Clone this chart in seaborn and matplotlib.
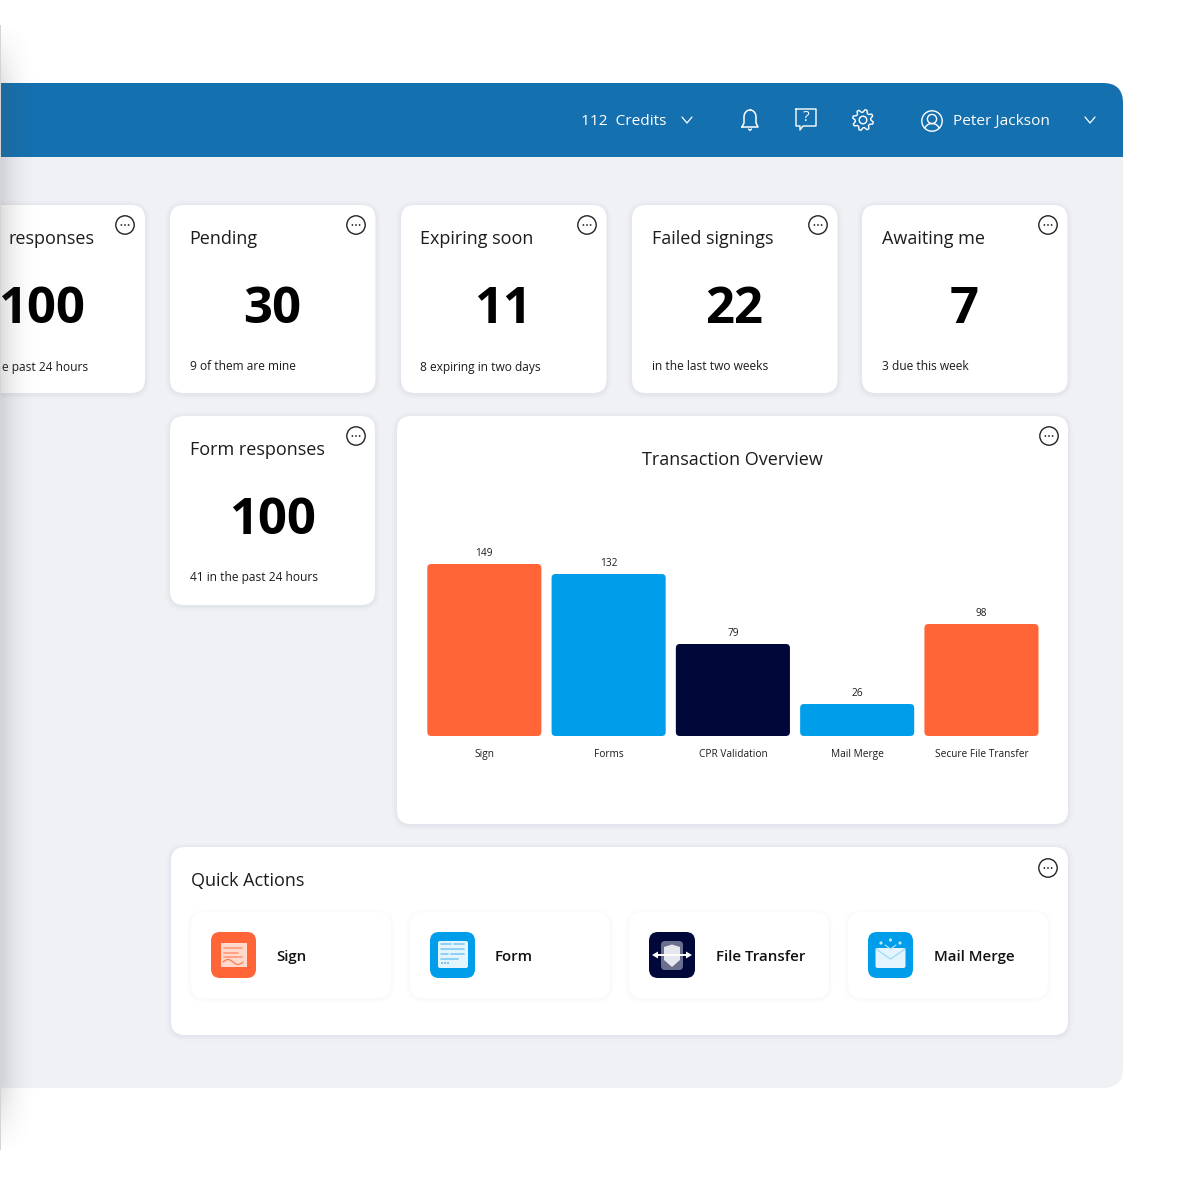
"""Dashboard mock-up with the Transaction Overview bar chart."""
import numpy as np
import pandas as pd
import matplotlib
matplotlib.use('Agg')
import matplotlib.pyplot as plt
from matplotlib.patches import Circle, FancyBboxPatch, Polygon, Rectangle
import seaborn as sns

# Chart data. The labels in the picture are not proportional to the drawn bars,
# so the bar lengths read off the picture are kept next to the printed values.
services = ['Sign', 'Forms', 'CPR Validation', 'Mail Merge', 'Secure File Transfer']
printed_values = [149, 132, 79, 26, 98]
bar_lengths = [172, 162, 92, 32, 112]
bar_colors = ['#FF6536', '#009DEA', '#00083A', '#009DEA', '#FF6536']

# Stat cards (the first is cropped by the picture edge, so only its visible text is kept)
cropped_title = 'responses'
cropped_value = '100'
cropped_note = 'e past 24 hours'
card_titles = ['Pending', 'Expiring soon', 'Failed signings', 'Awaiting me']
card_values = ['30', '11', '22', '7']
card_notes = ['9 of them are mine', '8 expiring in two days', 'in the last two weeks', '3 due this week']
form_title = 'Form responses'
form_value = '100'
form_note = '41 in the past 24 hours'

action_labels = ['Sign', 'Form', 'File Transfer', 'Mail Merge']
credits_label = '112  Credits'
user_name = 'Peter Jackson'

BLUE = '#1570AF'
PANEL = '#EFF1F5'
INK = '#1C1C1C'
FONT = 'Open Sans'
TITLE_SIZE = 13.0
VALUE_SIZE = 36.5
NOTE_SIZE = 8.65


def box(ax, x0, y0, x1, y1, r, color, z=1, **kw):
    patch = FancyBboxPatch((x0, y0), x1 - x0, y1 - y0,
                           boxstyle=f'round,pad=0,rounding_size={r}',
                           fc=color, ec='none', zorder=z, **kw)
    ax.add_patch(patch)
    return patch


def card(ax, x0, y0, x1, y1, r=14):
    # soft shadow, then the white face
    for grow, alpha in zip([5, 3, 1.5], [0.012, 0.018, 0.022]):
        box(ax, x0 - grow, y0 - grow + 1, x1 + grow, y1 + grow + 1, r + grow, '#39406A', z=2, alpha=alpha)
    box(ax, x0, y0, x1, y1, r, 'white', z=3)


def more_icon(ax, x, y):
    ax.add_patch(Circle((x, y), 9.2, fc='white', ec='#222222', lw=1.0, zorder=5))
    for dx in (-3.6, 0, 3.6):
        ax.add_patch(Circle((x + dx, y), 0.9, fc='#222222', ec='none', zorder=6))


def chevron(ax, x, y):
    ax.plot([x - 5, x, x + 5], [y - 3, y + 3, y - 3], color='white', lw=0.9, zorder=6)


def bell(ax, x, y):
    t = np.linspace(np.pi, 0, 30)
    xs = [x - 8, x - 6] + list(x + 6 * np.cos(t)) + [x + 6, x + 8]
    ys = [y + 7, y + 3] + list(y - 3 + 7 * -np.sin(t)) + [y + 3, y + 7]
    ax.plot(xs + [xs[0]], ys + [ys[0]], color='white', lw=1.1, zorder=6)
    ax.plot([x - 1.5, x, x + 1.5], [y + 9, y + 10.5, y + 9], color='white', lw=1.0, zorder=6)
    ax.plot([x, x], [y - 11.5, y - 10], color='white', lw=1.0, zorder=6)


def help_icon(ax, x, y):
    xs = [x - 10, x + 10, x + 10, x - 3, x - 6, x - 6, x - 10, x - 10]
    ys = [y - 10, y - 10, y + 7, y + 7, y + 11, y + 7, y + 7, y - 10]
    ax.plot(xs, ys, color='white', lw=1.0, zorder=6)
    ax.text(x, y - 1.5, '?', color='white', fontsize=11, ha='center', va='center',
            family=FONT, zorder=6)


def gear(ax, x, y):
    n = 8
    ang = np.linspace(0, 2 * np.pi, n * 4, endpoint=False) + np.pi / 8 - np.pi / 16
    rad = np.tile([10.5, 10.5, 7.8, 7.8], n)
    ax.add_patch(Polygon(np.c_[x + rad * np.cos(ang), y + rad * np.sin(ang)], closed=True,
                         fc='none', ec='white', lw=1.0, joinstyle='round', zorder=6))
    ax.add_patch(Circle((x, y), 3.8, fc='none', ec='white', lw=1.0, zorder=6))


def user_icon(ax, x, y):
    ax.add_patch(Circle((x, y), 10.2, fc='none', ec='white', lw=1.0, zorder=6))
    ax.add_patch(Circle((x, y - 2), 4.6, fc='none', ec='white', lw=1.0, zorder=6))
    t = np.linspace(np.pi * 1.12, np.pi * 1.88, 20)
    ax.plot(x + 7.6 * np.cos(t), y + 9.5 + 7 * np.sin(t), color='white', lw=1.0, zorder=6)


def sign_icon(ax, x, y):
    box(ax, x, y, x + 45, y + 46, 9, '#FF6536', z=5)
    ax.add_patch(Rectangle((x + 9.5, y + 11), 26, 24, fc='#FFD9CC', ec='none', zorder=6))
    for k, w in enumerate([18, 14, 18]):
        ax.plot([x + 13, x + 13 + w], [y + 16 + k * 4.5] * 2, color='#FF9D80', lw=1.3, zorder=7)
    t = np.linspace(0, 1, 30)
    ax.plot(x + 12 + 20 * t, y + 30 - 2.5 * np.sin(t * 2 * np.pi), color='#FF7A50', lw=0.9, zorder=7)


def form_icon(ax, x, y):
    box(ax, x, y, x + 45, y + 46, 9, '#009DEA', z=5)
    box(ax, x + 8, y + 9, x + 38, y + 36, 2, '#E3F4FD', z=6)
    rows = [(11, 21, 12), (24, 34, 12), (11, 34, 17), (11, 18, 22), (21, 34, 22), (11, 28, 27)]
    for a, b, dy in rows:
        ax.plot([x + a, x + b], [y + dy] * 2, color='#7CCBF4', lw=1.2, zorder=7)
    for dx in (12, 15, 18):
        ax.add_patch(Circle((x + dx, y + 31), 0.9, fc='#3DAEEA', ec='none', zorder=7))


def transfer_icon(ax, x, y):
    box(ax, x, y, x + 46, y + 46, 9, '#00083A', z=5)
    box(ax, x + 12, y + 9, x + 34, y + 38, 4, '#6A6F8E', z=6)
    ax.add_patch(Polygon([(x + 15, y + 15), (x + 23, y + 12.5), (x + 31, y + 15), (x + 31, y + 28),
                          (x + 23, y + 35), (x + 15, y + 28)], fc='#E6E7EE', ec='none', zorder=7))
    ax.plot([x + 6, x + 40], [y + 23, y + 23], color='white', lw=1.4, zorder=8)
    ax.add_patch(Polygon([(x + 3, y + 23), (x + 9, y + 19.5), (x + 9, y + 26.5)], fc='white', ec='none', zorder=8))
    ax.add_patch(Polygon([(x + 43, y + 23), (x + 37, y + 19.5), (x + 37, y + 26.5)], fc='white', ec='none', zorder=8))


def mail_icon(ax, x, y):
    box(ax, x, y, x + 45, y + 46, 9, '#009DEA', z=5)
    box(ax, x + 7.5, y + 16, x + 37.5, y + 36, 2, '#E3F4FD', z=6)
    ax.plot([x + 8, x + 22.5, x + 37], [y + 17, y + 27, y + 17], color='#A5DCF7', lw=1.0, zorder=7)
    ax.plot([x + 17, x + 22.5, x + 28], [y + 13, y + 17, y + 13], color='#BFE6FA', lw=0.8, zorder=7)
    for dx, dy in [(13, 11), (22.5, 8), (32, 11)]:
        ax.add_patch(Circle((x + dx, y + dy), 1.6, fc='#BFE6FA', ec='none', zorder=7))


sns.set_theme(style='white')
plt.rcParams['font.family'] = [FONT, 'DejaVu Sans']

fig = plt.figure(figsize=(12, 12), dpi=100, facecolor='white')
page = fig.add_axes([0, 0, 1, 1])
page.set_xlim(0, 1200)
page.set_ylim(1200, 0)
page.axis('off')

# Window and header bar
box(page, -40, 83, 1123, 1088, 20, PANEL, z=1)
box(page, -40, 83, 1123, 190, 20, BLUE, z=1.2)
page.add_patch(Rectangle((-40, 157), 1163, 40, fc=PANEL, ec='none', zorder=1.3))

page.text(581, 121.5, credits_label, color='white', fontsize=11.1, va='center', family=FONT, zorder=6)
chevron(page, 687, 120)
bell(page, 750, 120)
help_icon(page, 806, 119)
gear(page, 863, 120)
user_icon(page, 932, 121)
page.text(953, 121.5, user_name, color='white', fontsize=11.05, va='center', family=FONT, zorder=6)
chevron(page, 1090, 120)

# Stat cards, the cropped one first
card(page, -61, 205, 145, 393)
page.text(94, 239, cropped_title, fontsize=TITLE_SIZE, color=INK, ha='right', va='center', family=FONT, zorder=6)
page.text(41.5, 310, cropped_value, fontsize=VALUE_SIZE, color='black', weight='bold', ha='center',
          va='center', family=FONT, zorder=6)
page.text(88, 370.5, cropped_note, fontsize=NOTE_SIZE, color=INK, ha='right', va='baseline', family=FONT, zorder=6)
more_icon(page, 125, 225)

card_x = [170, 401, 632, 862]
for x, title, value, note in zip(card_x, card_titles, card_values, card_notes):
    card(page, x, 205, x + 205.5, 393)
    page.text(x + 19.5, 239, title, fontsize=TITLE_SIZE, color=INK, va='center', family=FONT, zorder=6)
    page.text(x + 102, 310, value, fontsize=VALUE_SIZE, color='black', weight='bold', ha='center',
              va='center', family=FONT, zorder=6)
    page.text(x + 19.5, 370.5, note, fontsize=NOTE_SIZE, color=INK, va='baseline', family=FONT, zorder=6)
    more_icon(page, x + 186, 225)

card(page, 170, 416, 375, 605)
page.text(190, 450, form_title, fontsize=TITLE_SIZE, color=INK, va='center', family=FONT, zorder=6)
page.text(272, 521, form_value, fontsize=VALUE_SIZE, color='black', weight='bold', ha='center',
          va='center', family=FONT, zorder=6)
page.text(190, 581.5, form_note, fontsize=NOTE_SIZE, color=INK, va='baseline', family=FONT, zorder=6)
more_icon(page, 356, 436)

# Chart card
card(page, 397, 416, 1068, 824)
more_icon(page, 1049, 436)
page.text(732.5, 460, 'Transaction Overview', fontsize=TITLE_SIZE, color=INK, ha='center', va='center',
          family=FONT, zorder=6)

# Chart axes are 1 unit = 1 px tall, placed so the baseline sits at y = 736
left, right, top, bottom = 422.2, 1043.6, 536, 736
chart = fig.add_axes([left / 1200, 1 - bottom / 1200, (right - left) / 1200, (bottom - top) / 1200],
                     facecolor='none', zorder=5)
df = pd.DataFrame({'service': services, 'length': bar_lengths})
sns.barplot(data=df, x='service', y='length', hue='service', palette=bar_colors, legend=False,
            width=0.918, saturation=1, ax=chart)
chart.set_xlim(-0.5, 4.5)
chart.set_ylim(0, bottom - top)
chart.set_xlabel('')
chart.set_ylabel('')
chart.set_yticks([])
chart.tick_params(axis='x', length=0, pad=15, labelsize=7.25, labelcolor=INK)
for tick_label in chart.get_xticklabels():
    tick_label.set_verticalalignment('baseline')
sns.despine(ax=chart, left=True, bottom=True)

# Swap the square bars for rounded ones of the same size
px_per_x = (right - left) / 5
for bar, value in zip(list(chart.patches), printed_values):
    x0, w, h = bar.get_x(), bar.get_width(), bar.get_height()
    chart.add_patch(FancyBboxPatch((x0, 0), w, h, boxstyle=f'round,pad=0,rounding_size={4 / px_per_x}',
                                   mutation_aspect=px_per_x, fc=bar.get_facecolor(), ec='none'))
    bar.set_visible(False)
    chart.text(x0 + w / 2, h + 8.5, str(value), fontsize=7.25, color=INK, ha='center', va='baseline')

# Quick actions
card(page, 171, 847, 1068, 1035)
more_icon(page, 1048, 868)
page.text(191, 881, 'Quick Actions', fontsize=TITLE_SIZE, color=INK, va='center', family=FONT, zorder=6)
tile_x = [191, 410, 629, 848]
label_x = [276, 495, 716, 934]
icons = [sign_icon, form_icon, transfer_icon, mail_icon]
for tx, lx, label, icon in zip(tile_x, label_x, action_labels, icons):
    for grow, alpha in zip([4, 2], [0.006, 0.01]):
        box(page, tx - grow, 912 - grow + 1, tx + 200 + grow, 998 + grow + 1, 14 + grow, '#39406A', z=3.2, alpha=alpha)
    box(page, tx, 912, tx + 200, 998, 14, 'white', z=3.5)
    icon(page, tx + 20, 932)
    page.text(lx, 961, label, fontsize=10.8, weight=600, color='#111111', va='baseline', family=FONT, zorder=6)

# Shadow thrown by the sidebar that sits just outside the crop
xs = np.linspace(0, 1, 60)
ys = np.linspace(0, 1, 120)
fade_x = 0.2 * (1 - xs) ** 2.2
fade_y = np.clip(ys / 0.06, 0, 1) * np.clip((1 - ys) / 0.06, 0, 1)
shade = np.zeros((120, 60, 4))
shade[..., :3] = 0.3
shade[..., 3] = np.outer(fade_y, fade_x)
page.imshow(shade, extent=(0, 42, 1155, 20), aspect='auto', zorder=20, interpolation='bilinear')
page.add_patch(Rectangle((0, 25), 1.2, 1125, fc='#D4D4D6', ec='none', zorder=21))
page.set_xlim(0, 1200)
page.set_ylim(1200, 0)

fig.savefig('out.png', dpi=100, facecolor='white')
